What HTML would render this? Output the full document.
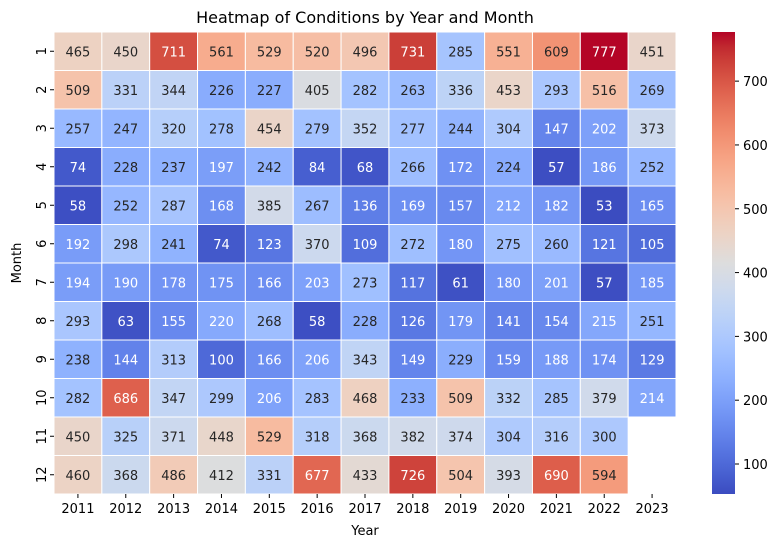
<!DOCTYPE html>
<html><head><meta charset="utf-8">
<style>
body{margin:0;background:#fff;}
svg{display:block;font-family:"DejaVu Sans","Liberation Sans",sans-serif;}
</style></head>
<body>
<svg id="chart" width="781" height="547">
<defs>
<linearGradient id="cbgrad" x1="0" y1="1" x2="0" y2="0"></linearGradient>
</defs>
<text x="365" y="23" font-size="16" text-anchor="middle" fill="#000">Heatmap of Conditions by Year and Month</text>
<text x="365" y="535" font-size="13" text-anchor="middle" fill="#000">Year</text>
<text x="0" y="0" font-size="13" text-anchor="middle" fill="#000" transform="translate(21,263) rotate(-90)">Month</text>
<g id="cells"></g>
<g id="xticks"></g>
<g id="yticks"></g>
<g id="cbar"></g>
</svg>
<script>
const years = ["2011","2012","2013","2014","2015","2016","2017","2018","2019","2020","2021","2022","2023"];
const months = ["1","2","3","4","5","6","7","8","9","10","11","12"];
const values = [
[465,450,711,561,529,520,496,731,285,551,609,777,451],
[509,331,344,226,227,405,282,263,336,453,293,516,269],
[257,247,320,278,454,279,352,277,244,304,147,202,373],
[74,228,237,197,242,84,68,266,172,224,57,186,252],
[58,252,287,168,385,267,136,169,157,212,182,53,165],
[192,298,241,74,123,370,109,272,180,275,260,121,105],
[194,190,178,175,166,203,273,117,61,180,201,57,185],
[293,63,155,220,268,58,228,126,179,141,154,215,251],
[238,144,313,100,166,206,343,149,229,159,188,174,129],
[282,686,347,299,206,283,468,233,509,332,285,379,214],
[450,325,371,448,529,318,368,382,374,304,316,300,null],
[460,368,486,412,331,677,433,726,504,393,690,594,null]
];
const cbTicks = [100,200,300,400,500,600,700];

const NS="http://www.w3.org/2000/svg";
const L=54,R=676,T=32,B=494;
const cw=(R-L)/years.length, ch=(B-T)/months.length;
const flat=values.flat().filter(v=>v!==null);
const vmin=Math.min(...flat), vmax=Math.max(...flat);
const cmap=[[59,76,192],[68,90,204],[77,104,215],[87,117,225],[98,130,234],[108,142,241],[119,154,247],[130,165,251],[141,176,254],[152,185,255],[163,194,255],[174,201,253],[184,208,249],[194,213,244],[204,217,238],[213,219,230],[221,221,221],[229,216,209],[236,211,197],[241,204,185],[245,196,173],[247,187,160],[247,177,148],[247,166,135],[244,154,123],[241,141,111],[236,127,99],[229,112,88],[222,96,77],[213,80,66],[203,62,56],[192,40,47],[180,4,38]];
function color(v){
  let t=(v-vmin)/(vmax-vmin); t=Math.max(0,Math.min(1,t));
  const p=t*(cmap.length-1), i=Math.min(Math.floor(p),cmap.length-2), f=p-i;
  return cmap[i].map((c,k)=>Math.round(c+(cmap[i+1][k]-c)*f));
}
function lum(c){
  const a=c.map(x=>{x/=255;return x<=0.03928?x/12.92:Math.pow((x+0.055)/1.055,2.4);});
  return 0.2126*a[0]+0.7152*a[1]+0.0722*a[2];
}
const xScale=i=>L+i*cw, yScale=j=>T+j*ch;
function mk(tag,attrs,parent){const e=document.createElementNS(NS,tag);for(const k in attrs)e.setAttribute(k,attrs[k]);parent.appendChild(e);return e;}
const cells=document.getElementById('cells');
values.forEach((row,j)=>row.forEach((v,i)=>{
  if(v===null) return;
  const c=color(v);
  const r=mk('rect',{x:xScale(i),y:yScale(j),width:cw,height:ch,fill:`rgb(${c})`,stroke:'#fff','stroke-width':1},cells);
  
  
  const t=mk('text',{x:xScale(i)+cw/2,y:yScale(j)+ch/2+5,'font-size':13,'text-anchor':'middle',fill:lum(c)>0.408?'#262626':'#fff'},cells);
  t.textContent=v;
  
  
}));
const xt=document.getElementById('xticks');
years.forEach((y,i)=>{
  const cx=xScale(i)+cw/2;
  mk('line',{x1:cx,x2:cx,y1:B,y2:B+4,stroke:'#000'},xt);
  const t=mk('text',{x:cx,y:B+19,'font-size':13,'text-anchor':'middle',fill:'#000'},xt);
  t.textContent=y;
  
  
});
const yt=document.getElementById('yticks');
months.forEach((m,j)=>{
  const cy=yScale(j)+ch/2;
  mk('line',{x1:L-4,x2:L,y1:cy,y2:cy,stroke:'#000'},yt);
  const t=mk('text',{x:0,y:0,'font-size':13,'text-anchor':'middle',fill:'#000',transform:`translate(${L-8},${cy}) rotate(-90)`},yt);
  t.textContent=m;
  
  
});
// colorbar
const grad=document.getElementById('cbgrad');
cmap.forEach((c,k)=>mk('stop',{offset:(k/(cmap.length-1)),'stop-color':`rgb(${c})`},grad));
const cb=document.getElementById('cbar');
const CX=712,CW=23,CT=32,CB=494;
const cbY=v=>CB-(v-vmin)/(vmax-vmin)*(CB-CT);
const bar=mk('rect',{x:CX,y:CT,width:CW,height:CB-CT,fill:'url(#cbgrad)'},cb);


cbTicks.forEach(v=>{
  const y=cbY(v);
  mk('line',{x1:CX+CW,x2:CX+CW+4,y1:y,y2:y,stroke:'#000'},cb);
  const t=mk('text',{x:CX+CW+8,y:y+5,'font-size':13,fill:'#000'},cb);
  t.textContent=v;
  
  
});
</script>
</body></html>
